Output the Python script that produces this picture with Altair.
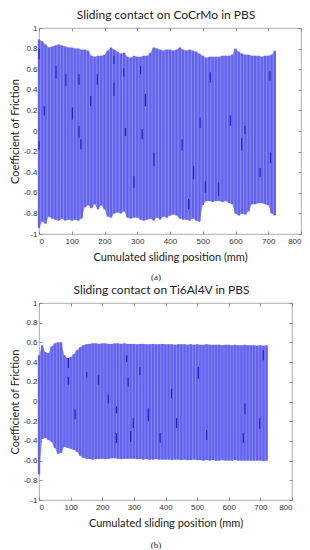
import altair as alt
import pandas as pd

# ---------------- data ----------------
X_MM = [0, 10, 20, 30, 40, 50, 60, 70, 80, 90,
        100, 110, 120, 130, 140, 150, 160, 170, 180, 190,
        200, 210, 220, 230, 240, 250, 260, 270, 280, 290,
        300, 310, 320, 330, 340, 350, 360, 370, 380, 390,
        400, 410, 420, 430, 440, 450, 460, 470, 480, 490,
        500, 510, 520, 530, 540, 550, 560, 570, 580, 590,
        600, 610, 620, 630, 640, 650, 660, 670, 680, 690,
        700, 710, 720]

# Panel (a) CoCrMo: upper / lower envelope of the friction trace
A_UPPER = [0.89, 0.87, 0.84, 0.81, 0.82, 0.83, 0.84, 0.83, 0.82, 0.81,
           0.81, 0.80, 0.80, 0.79, 0.79, 0.78, 0.73, 0.72, 0.73, 0.73,
           0.74, 0.78, 0.81, 0.79, 0.77, 0.75, 0.76, 0.72, 0.71, 0.73,
           0.72, 0.72, 0.73, 0.73, 0.76, 0.81, 0.80, 0.79, 0.78, 0.79,
           0.79, 0.78, 0.79, 0.81, 0.79, 0.78, 0.79, 0.78, 0.77, 0.75,
           0.73, 0.71, 0.72, 0.72, 0.72, 0.72, 0.73, 0.73, 0.73, 0.74,
           0.80, 0.77, 0.75, 0.74, 0.74, 0.73, 0.73, 0.73, 0.72, 0.73,
           0.73, 0.74, 0.78]
A_LOWER = [-0.94, -0.88, -0.90, -0.83, -0.85, -0.86, -0.87, -0.85, -0.87, -0.86,
           -0.87, -0.86, -0.87, -0.85, -0.74, -0.72, -0.75, -0.71, -0.76, -0.72,
           -0.76, -0.83, -0.84, -0.80, -0.79, -0.80, -0.78, -0.84, -0.85, -0.84,
           -0.84, -0.86, -0.87, -0.86, -0.85, -0.87, -0.84, -0.86, -0.83, -0.84,
           -0.82, -0.81, -0.82, -0.85, -0.86, -0.86, -0.87, -0.85, -0.87, -0.88,
           -0.72, -0.68, -0.68, -0.69, -0.68, -0.68, -0.69, -0.68, -0.70, -0.71,
           -0.80, -0.82, -0.80, -0.81, -0.78, -0.71, -0.71, -0.70, -0.70, -0.71,
           -0.72, -0.80, -0.82]
A_DARK_X = [0, 0, 16, 52, 82, 102, 122, 122, 128, 158, 178, 229, 229, 259, 264,
            290, 310, 315, 325, 351, 437, 457, 472, 492, 508, 523, 548, 584, 619,
            629, 675, 705, 707]
A_DARK_LO = [0.70, -0.18, 0.15, 0.51, 0.44, 0.11, 0.45, -0.065, -0.18, 0.24, 0.45,
             0.34, 0.65, 0.53, -0.05, -0.55, 0.55, -0.08, 0.24, -0.34, -0.19, -0.76,
             -0.47, 0.03, -0.60, 0.47, -0.63, 0.05, -0.19, -0.03, -0.45, 0.49, -0.31]
A_DARK_HI = [0.80, -0.10, 0.24, 0.63, 0.55, 0.23, 0.55, 0.05, -0.08, 0.34, 0.55,
             0.47, 0.73, 0.61, 0.03, -0.44, 0.63, 0.02, 0.36, -0.21, -0.08, -0.66,
             -0.34, 0.13, -0.49, 0.57, -0.50, 0.15, -0.07, 0.05, -0.36, 0.58, -0.21]

# Panel (b) Ti6Al4V
B_UPPER = [0.47, 0.57, 0.50, 0.49, 0.56, 0.59, 0.60, 0.60, 0.47, 0.44,
           0.45, 0.48, 0.52, 0.55, 0.57, 0.58, 0.585, 0.59, 0.59, 0.585,
           0.59, 0.59, 0.585, 0.585, 0.59, 0.59, 0.585, 0.59, 0.585, 0.585,
           0.585, 0.58, 0.585, 0.585, 0.58, 0.58, 0.585, 0.58, 0.58, 0.585,
           0.58, 0.58, 0.58, 0.575, 0.58, 0.58, 0.58, 0.575, 0.58, 0.575,
           0.58, 0.575, 0.575, 0.58, 0.575, 0.575, 0.575, 0.575, 0.57, 0.575,
           0.575, 0.57, 0.575, 0.57, 0.57, 0.575, 0.57, 0.57, 0.57, 0.565,
           0.57, 0.565, 0.57]
B_LOWER = [-0.74, -0.38, -0.37, -0.39, -0.41, -0.47, -0.53, -0.52, -0.46, -0.47,
           -0.48, -0.49, -0.51, -0.55, -0.57, -0.58, -0.585, -0.59, -0.585, -0.585,
           -0.58, -0.585, -0.58, -0.575, -0.575, -0.58, -0.585, -0.58, -0.58, -0.58,
           -0.58, -0.585, -0.585, -0.59, -0.585, -0.59, -0.59, -0.585, -0.59, -0.59,
           -0.59, -0.59, -0.595, -0.59, -0.59, -0.595, -0.59, -0.595, -0.595, -0.59,
           -0.595, -0.595, -0.60, -0.595, -0.60, -0.595, -0.60, -0.60, -0.595, -0.60,
           -0.60, -0.60, -0.595, -0.60, -0.60, -0.60, -0.60, -0.60, -0.60, -0.60,
           -0.60, -0.605, -0.60]
B_DARK_X = [93, 151, 277, 319, 504, 709, 93, 114, 188, 219, 245, 245, 282, 290,
            298, 346, 383, 419, 435, 530, 651, 646, 698]
B_DARK_LO = [0.34, 0.24, 0.40, 0.27, 0.23, 0.42, 0.17, -0.18, 0.17, -0.02, -0.12,
             -0.42, 0.15, -0.41, -0.27, -0.20, -0.42, 0.03, -0.27, -0.39, -0.13,
             -0.42, -0.28]
B_DARK_HI = [0.44, 0.30, 0.47, 0.35, 0.35, 0.52, 0.25, -0.08, 0.27, 0.07, -0.05,
             -0.32, 0.24, -0.30, -0.17, -0.07, -0.32, 0.13, -0.17, -0.29, -0.02,
             -0.32, -0.17]

X_TICKS = [0, 100, 200, 300, 400, 500, 600, 700, 800]
Y_TICKS = [-1, -0.8, -0.6, -0.4, -0.2, 0, 0.2, 0.4, 0.6, 0.8, 1]

TITLE_A = "Sliding contact on CoCrMo in PBS"
TITLE_B = "Sliding contact on Ti6Al4V in PBS"
X_TITLE = "Cumulated sliding position (mm)"
Y_TITLE = "Coefficient of Friction"

FILL = "#8e8ef4"
STROKE = "#6262ee"
DARK = "#2020c4"
TICK = "#777777"


def tick_axis(orient, offset, values):
    return alt.Axis(orient=orient, offset=offset, values=values, labels=False,
                    domain=False, grid=False, ticks=True, tickSize=3,
                    tickColor=TICK, tickWidth=0.8, title=None)


def panel(title, upper, lower, dk_x, dk_lo, dk_hi, W, H, tag, tag_y):
    env = pd.DataFrame({"x": X_MM, "up": upper, "lo": lower})
    dk = pd.DataFrame({"x": dk_x, "lo": dk_lo, "hi": dk_hi})
    xs = alt.Scale(domain=[0, 800], nice=False, zero=False)
    ys = alt.Scale(domain=[-1, 1], nice=False, zero=False)

    ax_x = alt.Axis(orient="bottom", values=X_TICKS, ticks=False, domain=False,
                    grid=False, labelPadding=3, labelFontSize=8,
                    labelFont="Liberation Sans", labelColor="#333333",
                    labelOverlap=False, title=X_TITLE, titleFont="Lato",
                    titleFontSize=11, titleFontWeight="normal",
                    titleColor="#222222", titlePadding=6)
    ax_y = alt.Axis(orient="left", values=Y_TICKS, ticks=False, domain=False,
                    grid=False, labelPadding=2, labelFontSize=8,
                    labelFont="Liberation Sans", labelColor="#333333",
                    labelOverlap=False, labelExpr="'' + datum.value",
                    title=Y_TITLE, titleFont="Lato", titleFontSize=11,
                    titleFontWeight="normal", titleColor="#222222",
                    titlePadding=3)

    area = alt.Chart(env).mark_area(color=FILL, opacity=1).encode(
        x=alt.X("x:Q", scale=xs, axis=ax_x),
        y=alt.Y("up:Q", scale=ys, axis=ax_y),
        y2="lo:Q",
    )
    rules = alt.Chart(env).mark_rule(color=STROKE, strokeWidth=2.3).encode(
        x=alt.X("x:Q", scale=xs, axis=tick_axis("top", -H, X_TICKS)),
        y=alt.Y("lo:Q", scale=ys, axis=tick_axis("right", -W, Y_TICKS)),
        y2="up:Q",
    )
    dark = alt.Chart(dk).mark_rule(color=DARK, strokeWidth=1.2).encode(
        x=alt.X("x:Q", scale=xs, axis=tick_axis("bottom", -H, X_TICKS)),
        y=alt.Y("lo:Q", scale=ys, axis=tick_axis("left", -W, Y_TICKS)),
        y2="hi:Q",
    )
    label = alt.Chart(pd.DataFrame({"t": [tag]})).mark_text(
        font="Liberation Serif", fontSize=9, color="#222222", baseline="middle"
    ).encode(x=alt.value(117), y=alt.value(tag_y), text="t:N")

    return alt.layer(area, rules, dark, label).resolve_axis(
        x="independent", y="independent"
    ).properties(
        width=W, height=H,
        title=alt.TitleParams(title, font="Lato", fontSize=12,
                              fontWeight="normal", color="#222222",
                              offset=2, anchor="middle", dx=-4, frame="group"),
    )


top = panel(TITLE_A, A_UPPER, A_LOWER, A_DARK_X, A_DARK_LO, A_DARK_HI,
            262, 206, "(a)", 249)
bottom = panel(TITLE_B, B_UPPER, B_LOWER, B_DARK_X, B_DARK_LO, B_DARK_HI,
               253, 197, "(b)", 242)

chart = alt.vconcat(top, bottom, spacing=0).properties(padding=0).configure_view(
    stroke="#999999", strokeWidth=0.8
)

chart.save("out.html", embed_options={"renderer": "svg", "actions": False})
